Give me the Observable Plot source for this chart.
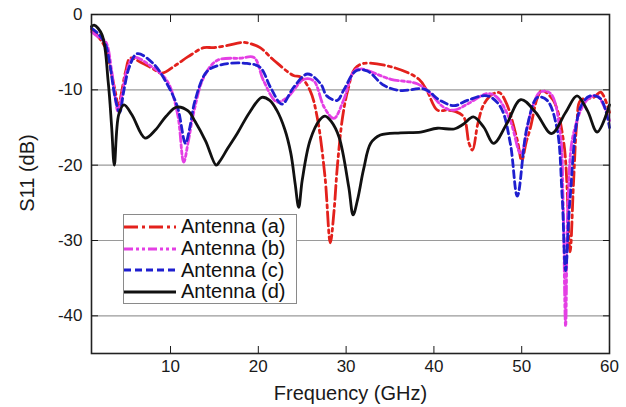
<!DOCTYPE html>
<html><head><meta charset="utf-8">
<script src="https://cdn.jsdelivr.net/npm/d3@7"></script>
<script src="https://cdn.jsdelivr.net/npm/@observablehq/plot@0.6"></script>
<style>
html,body{margin:0;padding:0;background:#fff;}
#wrap{position:relative;width:626px;height:407px;}
#legend{position:absolute;left:123px;top:214px;width:174px;height:90px;border:1px solid #8a8a8a;background:#fff;
  font-family:"Liberation Sans",Arial,sans-serif;font-size:20px;color:#111;box-sizing:border-box;padding-top:1px;}
.row{display:flex;align-items:center;height:21.7px;white-space:nowrap;}
.row svg{margin-left:0px;margin-right:5px;flex:none;}
</style></head><body><div id="wrap"></div>
<script>
// ---- data ----
const seriesNames = ["Antenna (a)", "Antenna (b)", "Antenna (c)", "Antenna (d)"];

const freqA = [1, 1.8, 2.6, 3.3, 3.9, 4.0, 4.4, 4.9, 5.4, 6.7, 8.0, 9.0, 10.5, 12.0, 13.8, 14.9, 16.5, 18.3, 19.2, 20.2, 21.8, 24.0, 24.8, 25.9, 26.7, 27.6, 28.2, 28.6, 29.0, 29.6, 30.2, 31.0, 32.0, 35.6, 38.3, 39.2, 40.4, 41.5, 42.5, 43.4, 44.0, 44.4, 45.0, 45.7, 46.8, 47.5, 48.3, 49.5, 50.0, 50.5, 51.0, 51.8, 52.3, 53.6, 54.8, 55.5, 55.9, 56.3, 56.7, 58.2, 59.0, 60];
const s11A  = [-2.0, -3.0, -4.5, -8.0, -11.5, -12.8, -10.5, -7.5, -5.8, -6.4, -7.2, -7.8, -6.8, -5.6, -4.4, -4.4, -4.1, -3.7, -3.9, -4.4, -6.1, -8.1, -8.3, -10.1, -13.6, -21.6, -30.3, -26.4, -20.2, -13.6, -10.0, -7.2, -6.5, -7.1, -8.6, -10.1, -12.7, -12.7, -12.9, -13.6, -17.1, -18.0, -14.5, -11.9, -10.5, -10.4, -11.9, -16.7, -19.4, -17.0, -15.0, -11.0, -10.1, -11.4, -17.1, -31.5, -22.4, -14.1, -11.4, -11.0, -10.3, -13.0];

const freqB = [1, 1.8, 2.6, 3.3, 3.7, 4.0, 4.5, 5.0, 5.8, 7.7, 9.6, 10.8, 11.5, 12.0, 12.7, 13.8, 15.3, 18.0, 19.5, 20.6, 22.1, 23.3, 25.2, 26.3, 27.5, 28.6, 29.7, 30.9, 31.6, 35.1, 38.1, 39.6, 41.1, 42.3, 43.8, 46.1, 47.2, 48.7, 49.9, 51.0, 52.1, 53.3, 54.4, 54.7, 55.0, 55.3, 55.9, 57.4, 58.6, 60];
const s11B  = [-2.3, -3.0, -3.6, -7.5, -11.0, -12.8, -10.5, -7.5, -5.7, -6.8, -8.8, -13.2, -19.6, -17.0, -12.7, -8.3, -6.1, -5.8, -5.7, -8.8, -11.6, -11.0, -8.6, -8.8, -12.3, -13.8, -11.4, -7.5, -7.2, -8.6, -9.2, -10.5, -12.3, -12.7, -11.9, -10.5, -11.0, -14.1, -18.5, -13.2, -10.3, -10.5, -15.8, -24.0, -41.4, -24.0, -15.8, -11.4, -10.8, -14.1];

const freqC = [1, 1.8, 2.6, 3.1, 3.7, 4.2, 4.7, 5.3, 6.2, 8.1, 9.6, 10.8, 11.7, 12.2, 12.8, 14.2, 16.1, 18.7, 20.2, 21.4, 22.7, 24.0, 25.6, 27.1, 27.8, 29.0, 29.7, 31.1, 32.4, 34.3, 36.2, 38.9, 40.7, 42.3, 43.8, 46.1, 47.6, 48.7, 49.5, 50.6, 51.8, 52.9, 54.0, 54.6, 55.0, 55.5, 56.7, 57.8, 59.0, 60];
const s11C  = [-1.8, -2.6, -4.0, -6.7, -11.1, -13.0, -10.0, -7.0, -5.2, -6.6, -9.2, -12.3, -17.1, -15.0, -11.4, -7.5, -6.6, -6.5, -7.0, -9.7, -11.9, -9.7, -7.9, -9.2, -10.8, -11.4, -10.1, -7.5, -7.5, -9.4, -10.1, -9.9, -11.4, -12.1, -11.4, -10.8, -12.3, -17.1, -24.1, -15.0, -11.0, -11.4, -15.0, -24.0, -34.0, -24.6, -12.3, -10.8, -11.2, -15.0];

const freqD = [1, 1.3, 2.2, 2.9, 3.3, 3.6, 4.1, 4.7, 5.6, 7.1, 8.3, 9.5, 10.7, 12.0, 12.8, 14.0, 15.2, 15.6, 16.5, 17.6, 19.0, 20.4, 21.3, 22.1, 23.0, 23.7, 24.2, 24.6, 25.0, 25.9, 27.0, 27.6, 28.3, 29.2, 30.3, 30.8, 31.3, 32.0, 32.8, 33.9, 36.2, 38.5, 40.4, 42.3, 43.3, 44.5, 45.7, 46.8, 48.3, 49.9, 51.6, 53.4, 55.0, 56.3, 57.5, 58.6, 60];
const s11D  = [-1.6, -1.4, -2.7, -8.9, -15.0, -20.0, -13.3, -12.0, -13.3, -16.4, -15.3, -13.5, -12.3, -12.8, -14.2, -16.8, -20.0, -19.5, -17.8, -15.8, -13.0, -11.0, -11.4, -12.7, -15.2, -18.4, -22.5, -25.6, -22.0, -16.7, -14.0, -13.5, -14.2, -16.3, -22.9, -26.6, -24.6, -20.5, -17.1, -16.0, -15.7, -15.6, -15.1, -15.2, -14.6, -13.6, -15.0, -17.1, -14.5, -11.3, -13.0, -15.8, -13.0, -10.8, -12.8, -15.6, -12.0];

const xTicks = [10, 20, 30, 40, 50, 60];
const yTicks = [0, -10, -20, -30, -40];
const gridDb = [-10, -20, -30, -40];
const xTitle = "Frequency (GHz)";
const yTitle = "S11 (dB)";

// ---- styles ----
const lineColors = ["#e3211c", "#e43fe4", "#1f1fcf", "#111111"];
const lineDashes = ["14,4,3,4", "9,3,3,3,3,3", "7,4", null];

const freqs = [freqA, freqB, freqC, freqD];
const vals = [s11A, s11B, s11C, s11D];
const rows = seriesNames.map((name, i) => freqs[i].map((f, j) => ({name, f, v: vals[i][j]})));

const fmt = d => String(d);
const chart = Plot.plot({
  width: 626, height: 407,
  marginLeft: 91, marginRight: 17, marginTop: 14, marginBottom: 54,
  style: {fontFamily: "Liberation Sans, Arial, sans-serif", fontSize: "17px", color: "#1a1a1a", background: "#fff"},
  x: {domain: [1, 60]},
  y: {domain: [-45, 0]},
  marks: [
    Plot.ruleY(gridDb, {stroke: "#9a9a9a", strokeWidth: 1.2}),
    ...rows.map((r, i) => Plot.line(r, {x: "f", y: "v", stroke: lineColors[i], strokeWidth: 2.8,
      strokeDasharray: lineDashes[i] ?? undefined, curve: "catmull-rom"})),
    Plot.frame({stroke: "#222", strokeWidth: 1.6}),
    Plot.axisX({ticks: xTicks, tickSize: -7, tickPadding: 13, tickFormat: fmt, label: null, fontSize: 17}),
    Plot.axisX({anchor: "top", ticks: xTicks.slice(0, -1), tickSize: -7, tickFormat: () => "", label: null}),
    Plot.axisY({ticks: yTicks, tickSize: -7, tickFormat: fmt, label: null, fontSize: 17}),
    Plot.axisY({anchor: "right", ticks: yTicks.slice(1), tickSize: -7, tickFormat: () => "", label: null}),
    Plot.text([xTitle], {frameAnchor: "bottom", textAnchor: "middle", lineAnchor: "middle", dy: 40, fontSize: 20, fill: "#1a1a1a"}),
    Plot.text([yTitle], {frameAnchor: "left", textAnchor: "middle", lineAnchor: "middle", dx: -64, dy: -11, rotate: -90, fontSize: 20, fill: "#1a1a1a"})
  ]
});
const wrap = document.getElementById("wrap");
wrap.appendChild(chart);

// legend
const legend = document.createElement("div");
legend.id = "legend";
seriesNames.forEach((name, i) => {
  const row = document.createElement("div");
  row.className = "row";
  const svg = d3.create("svg").attr("width", 52).attr("height", 10);
  svg.append("line").attr("x1", 0).attr("x2", 52).attr("y1", 5).attr("y2", 5)
    .attr("stroke", lineColors[i]).attr("stroke-width", 2.8)
    .attr("stroke-dasharray", lineDashes[i]);
  row.appendChild(svg.node());
  const span = document.createElement("span");
  span.textContent = name;
  row.appendChild(span);
  legend.appendChild(row);
});
wrap.appendChild(legend);
</script>
</body></html>
